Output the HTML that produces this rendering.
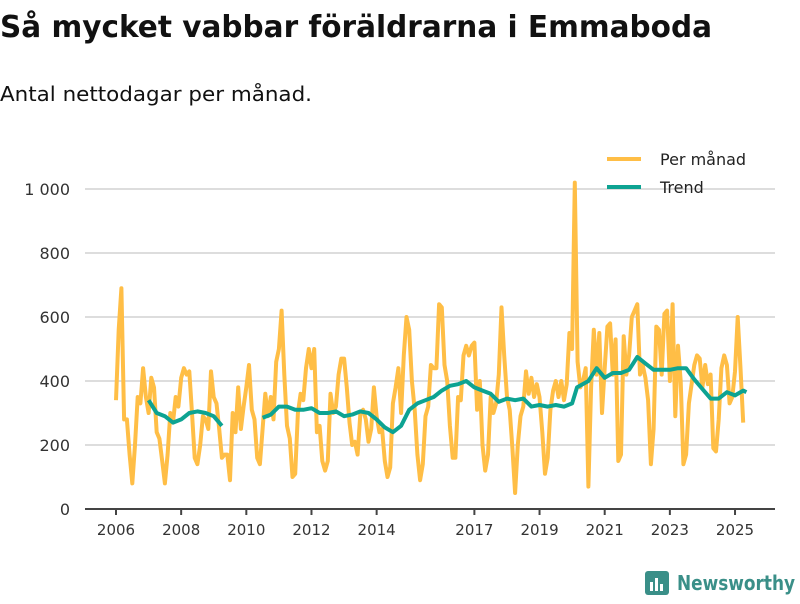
<!DOCTYPE html>
<html><head><meta charset="utf-8"><style>
body{margin:0;background:#fff;width:800px;height:600px;overflow:hidden;font-family:"DejaVu Sans",sans-serif;}
</style></head><body>
<svg width="800" height="600" font-family="DejaVu Sans, sans-serif">
<text x="0" y="37" font-size="30" font-weight="bold" fill="#111" textLength="712" lengthAdjust="spacingAndGlyphs">Så mycket vabbar föräldrarna i Emmaboda</text>
<text x="0" y="101" font-size="20" fill="#111" textLength="312" lengthAdjust="spacingAndGlyphs">Antal nettodagar per månad.</text>
<g id="grid"></g><g id="series"></g>
<g>
<line x1="607" y1="159" x2="641" y2="159" stroke="#ffbe46" stroke-width="4"/>
<text x="660" y="165" font-size="16" fill="#222">Per månad</text>
<line x1="607" y1="187" x2="641" y2="187" stroke="#0da392" stroke-width="4"/>
<text x="660" y="193" font-size="16" fill="#222">Trend</text>
</g>
<g>
<rect x="645" y="571" width="24" height="24" rx="3" fill="#3a8f88"/>
<rect x="650" y="582" width="3" height="9" fill="#fff"/><rect x="655" y="578" width="3" height="13" fill="#fff"/><rect x="660" y="584" width="3" height="7" fill="#fff"/>
<text x="677" y="590" font-size="20" font-weight="bold" fill="#3a8f88" textLength="118" lengthAdjust="spacingAndGlyphs">Newsworthy</text>
</g>
</svg>
<script>
const yTicks=[0,200,400,600,800,1000];
const yTickLabels=["0","200","400","600","800","1 000"];
const xTicks=[2006,2008,2010,2012,2014,2017,2019,2021,2023,2025];
const monthly=[
340,560,690,280,280,170,80,200,350,330,440,350,
300,410,380,240,220,150,80,170,300,270,350,320,
410,440,420,430,300,160,140,200,290,280,250,430,
350,330,250,160,170,170,90,300,240,380,250,320,
380,450,310,280,160,140,250,360,290,350,280,460,
500,620,420,260,220,100,110,300,360,340,440,500,
440,500,240,260,150,120,150,360,300,320,420,470,
470,380,270,200,210,170,300,310,280,210,250,380,
290,240,250,150,100,130,330,380,440,300,480,600,
560,400,310,170,90,140,290,320,450,440,440,640,
630,450,400,260,160,160,350,340,480,510,480,510,
520,310,400,200,120,170,350,300,330,420,630,480,
350,310,190,50,200,290,320,430,360,410,350,390,
350,240,110,160,310,370,400,350,400,340,390,550,
500,1020,460,380,400,440,70,380,560,420,550,300,
440,570,580,420,530,150,170,540,420,480,600,620,
640,420,450,410,340,140,250,570,560,420,610,620,
400,640,290,510,400,140,170,330,390,450,480,470,
380,450,390,420,190,180,280,440,480,450,330,350,
430,600,440,270];
const trendDates=[2007,2007.25,2007.5,2007.75,2008,2008.25,2008.5,2008.75,2009,2009.25,2009.4,2010.5,2010.75,2011,2011.25,2011.5,2011.75,2012,2012.25,2012.5,2012.75,2013,2013.25,2013.5,2013.75,2014,2014.25,2014.5,2014.75,2015,2015.25,2015.5,2015.75,2016,2016.25,2016.5,2016.75,2017,2017.25,2017.5,2017.75,2018,2018.25,2018.5,2018.75,2019,2019.25,2019.5,2019.75,2020,2020.15,2020.5,2020.75,2021,2021.25,2021.5,2021.75,2022,2022.25,2022.5,2022.75,2023,2023.25,2023.5,2023.75,2024,2024.25,2024.5,2024.75,2025,2025.25,2025.35];
const trendValues=[340,300,290,270,280,300,305,300,290,260,null,285,295,320,320,310,310,315,300,300,305,290,295,305,300,280,255,240,260,310,330,340,350,370,385,390,400,380,370,360,335,345,340,345,320,325,320,325,320,330,380,400,440,410,425,425,435,475,455,435,435,435,440,440,405,375,345,345,365,355,370,365];
const NS="http://www.w3.org/2000/svg";
const x=t=>116+(t-2006)*32.58;
const y=v=>509-v*0.32;
const grid=document.getElementById('grid'),ser=document.getElementById('series');
function mk(tag,at,par){const e=document.createElementNS(NS,tag);for(const k in at)e.setAttribute(k,at[k]);par.appendChild(e);return e;}
yTicks.forEach((v,i)=>{
 if(v>0){const l=mk('line',{x1:85,x2:775,y1:y(v),y2:y(v),stroke:'#ddd','stroke-width':2},grid);
 
 }
 const t=mk('text',{x:70,y:y(v)+6,'font-size':16,'text-anchor':'end',fill:'#333'},grid);t.textContent=yTickLabels[i];
 
 
});
const ax=mk('line',{x1:85,x2:775,y1:509,y2:509,stroke:'#444','stroke-width':2},grid);


xTicks.forEach(yr=>{
 mk('line',{x1:x(yr),x2:x(yr),y1:509,y2:515,stroke:'#444','stroke-width':2},grid);
 const t=mk('text',{x:x(yr),y:535,'font-size':15,'text-anchor':'middle',fill:'#333'},grid);t.textContent=yr;
 
 
});
let d=monthly.map((v,i)=>(i?'L':'M')+x(2006+i/12).toFixed(1)+','+y(v).toFixed(1)).join('');
const p=mk('path',{d:d,fill:'none',stroke:'#ffbe46','stroke-width':4,'stroke-linejoin':'round'},ser);


let td='',pen=false;
trendValues.forEach((v,i)=>{if(v===null){pen=false;return;}td+=(pen?'L':'M')+x(trendDates[i]).toFixed(1)+','+y(v).toFixed(1);pen=true;});
const tp=mk('path',{d:td,fill:'none',stroke:'#0da392','stroke-width':4,'stroke-linejoin':'round'},ser);


</script>
</body></html>
